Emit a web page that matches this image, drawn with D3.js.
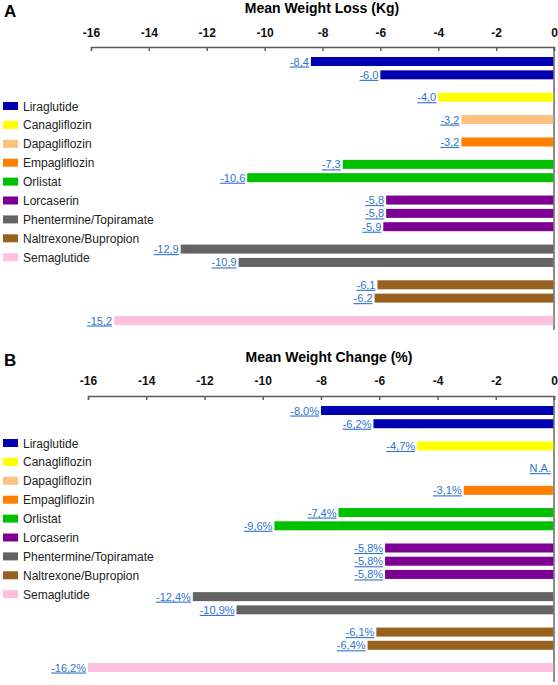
<!DOCTYPE html>
<html>
<head>
<meta charset="utf-8">
<script src="https://cdn.jsdelivr.net/npm/d3@7"></script>
<style>
  body { margin: 0; background: #fff; }
  svg { display: block; font-family: "Liberation Sans", Arial, sans-serif; }
</style>
</head>
<body>
<div id="main"></div>
<script>
// drugs and legend colours
var drugs = ["Liraglutide", "Canagliflozin", "Dapagliflozin", "Empagliflozin", "Orlistat",
    "Lorcaserin", "Phentermine/Topiramate", "Naltrexone/Bupropion", "Semaglutide"];
var drugColors = ["#0000b0", "#ffff00", "#ffc080", "#ff8000", "#00c000",
    "#7d0095", "#646464", "#97621f", "#ffc0e0"];

// one entry per bar (top to bottom): which drug, and the value
var barDrug = [0, 0, 1, 2, 3, 4, 4, 5, 5, 5, 6, 6, 7, 7, 8];
var lossKg = [-8.4, -6.0, -4.0, -3.2, -3.2, -7.3, -10.6, -5.8, -5.8, -5.9, -12.9, -10.9, -6.1, -6.2, -15.2];
var changePct = [-8.0, -6.2, -4.7, null, -3.1, -7.4, -9.6, -5.8, -5.8, -5.8, -12.4, -10.9, -6.1, -6.4, -16.2];

var xTicks = [-16, -14, -12, -10, -8, -6, -4, -2, 0];

var ctx = {
    w: 558,
    h: 685,
    GROUP_GAP: 0.68,
    BAR_H: 9,
    LABEL_COLOR: "#2f74d0",
    AXIS_COLOR: "#5a5a5a"
};

var svg = d3.select("#main").append("svg")
    .attr("width", ctx.w)
    .attr("height", ctx.h);

// plain hyphen instead of d3's unicode minus
var hyphen = function(s) { return String(s).replace("−", "-"); };

var drawPanel = function(p) {
    var g = svg.append("g");
    // bars that run past -16 are cut at the axis end
    var x = d3.scaleLinear().domain([-16, 0]).range([p.x0, p.x1]).clamp(true);

    // slot position: bar index plus an extra gap each time the drug changes
    var slots = barDrug.map(function(d, i) { return i + d * ctx.GROUP_GAP; });
    var y = d3.scaleLinear()
        .domain([0, d3.max(slots)])
        .range([p.firstTop, p.lastTop]);

    // panel letter
    g.append("text")
        .attr("x", 4).attr("y", p.letterY)
        .style("font-size", "17px").style("font-weight", "bold")
        .text(p.letter);

    // title
    g.append("text")
        .attr("x", p.titleX).attr("y", p.titleY)
        .attr("text-anchor", "middle")
        .style("font-size", "14px").style("font-weight", "bold")
        .text(p.title);

    // top axis, ticks pointing down
    var ax = g.append("g")
        .attr("transform", "translate(0," + p.axisY + ")")
        .call(d3.axisTop(x).tickValues(xTicks)
            .tickFormat(function(d) { return hyphen(d); })
            .tickSizeInner(-4).tickSizeOuter(-4).tickPadding(p.tickPad));
    ax.selectAll("path, line").attr("stroke", ctx.AXIS_COLOR).attr("stroke-width", 1.4);
    ax.selectAll("text")
        .style("font-family", "'Liberation Sans', Arial, sans-serif")
        .style("font-size", "12px").style("font-weight", "bold")
        .attr("fill", "#111");

    // vertical zero line
    g.append("line")
        .attr("x1", x(0)).attr("x2", x(0))
        .attr("y1", p.axisY).attr("y2", p.zeroEnd)
        .attr("stroke", ctx.AXIS_COLOR).attr("stroke-width", 1.4);

    var rows = p.values.map(function(v, i) { return {v: v, drug: barDrug[i], slot: slots[i]}; });

    // bars
    g.selectAll("rect.bar")
        .data(rows.filter(function(d) { return d.v !== null; }))
        .enter().append("rect")
        .attr("class", "bar")
        .attr("x", function(d) { return x(d.v); })
        .attr("y", function(d) { return y(d.slot); })
        .attr("width", function(d) { return x(0) - x(d.v) - 0.7; })
        .attr("height", ctx.BAR_H)
        .attr("fill", function(d) { return drugColors[d.drug]; });

    // value labels
    g.selectAll("text.val")
        .data(rows)
        .enter().append("text")
        .attr("class", "val")
        .attr("x", function(d) { return d.v === null ? x(0) - 3 : x(d.v) - 2; })
        .attr("y", function(d) { return y(d.slot) + ctx.BAR_H / 2 + 4; })
        .attr("text-anchor", "end")
        .attr("fill", ctx.LABEL_COLOR)
        .style("font-size", "11px")
        .style("text-decoration", "underline")
        .text(function(d) {
            if (d.v === null) return "N.A.";
            return hyphen(d3.format(".1f")(d.v)).replace(".", ",") + p.suffix;
        });

    // legend
    var lg = g.selectAll("g.leg")
        .data(drugs)
        .enter().append("g")
        .attr("class", "leg")
        .attr("transform", function(d, i) { return "translate(3," + (p.legendY + i * 18.9) + ")"; });
    lg.append("rect")
        .attr("x", 0).attr("y", -4)
        .attr("width", 15).attr("height", 8)
        .attr("fill", function(d, i) { return drugColors[i]; });
    lg.append("text")
        .attr("x", 20).attr("y", 4.5)
        .style("font-size", "12px")
        .attr("fill", "#222")
        .text(function(d) { return d; });
};

drawPanel({
    letter: "A", letterY: 17,
    title: "Mean Weight Loss (Kg)", titleX: 322, titleY: 13,
    x0: 91, x1: 554, axisY: 47, tickPad: 10,
    firstTop: 57, lastTop: 316, zeroEnd: 330,
    legendY: 106, values: lossKg, suffix: ""
});

drawPanel({
    letter: "B", letterY: 366,
    title: "Mean Weight Change (%)", titleX: 329, titleY: 362,
    x0: 88, x1: 554, axisY: 396, tickPad: 11,
    firstTop: 406, lastTop: 663, zeroEnd: 682,
    legendY: 443, values: changePct, suffix: "%"
});
</script>
</body>
</html>
